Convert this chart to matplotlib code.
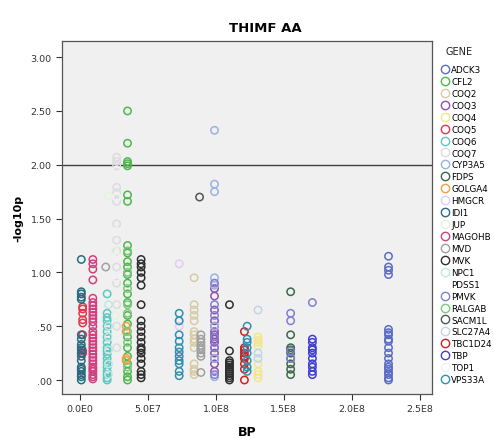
import matplotlib
matplotlib.use("Agg")
import matplotlib.pyplot as plt
from matplotlib.lines import Line2D

genes = ["ADCK3", "CFL2", "COQ2", "COQ3", "COQ4", "COQ5", "COQ6", "COQ7", "CYP3A5",
         "FDPS", "GOLGA4", "HMGCR", "IDI1", "JUP", "MAGOHB", "MVD", "MVK", "NPC1",
         "PDSS1", "PMVK", "RALGAB", "SACM1L", "SLC27A4", "TBC1D24", "TBP", "TOP1", "VPS33A"]
colors = ["#5a6cc4", "#4cb84c", "#d6cca4", "#9050b0", "#f3e68c", "#e0384a", "#5cc8c0",
          "#dcdcdc", "#9ab2e2", "#3a6a4a", "#f0a040", "#e2cdf2", "#2a6a80", "#e4f4dc",
          "#d04080", "#a0a0a0", "#2e2e2e", "#c0e8e0", "#ffffff", "#8080d0", "#7cc87c",
          "#555555", "#c0d6e6", "#d02020", "#4040d0", "#f2f2f2", "#3090b0"]

# (BP position, -log10p values) per gene
ADCK3_bp = [2.27e8] * 19
ADCK3_p = [1.15, 1.05, 1.02, 0.98, 0.47, 0.44, 0.42, 0.38, 0.36, 0.30, 0.25, 0.20, 0.15, 0.12, 0.10, 0.07, 0.05, 0.02, 0.00]
CFL2_bp = [3.5e7] * 24
CFL2_p = [2.50, 2.20, 2.03, 2.01, 1.99, 1.72, 1.66, 1.25, 1.18, 1.10, 1.05, 0.98, 0.90, 0.80, 0.72,
          0.60, 0.52, 0.40, 0.30, 0.22, 0.15, 0.08, 0.03, 0.00]
COQ2_bp = [8.4e7] * 14
COQ2_p = [0.95, 0.70, 0.65, 0.60, 0.55, 0.45, 0.42, 0.38, 0.35, 0.30, 0.15, 0.10, 0.08, 0.05]
COQ3_bp = [9.9e7] * 14
COQ3_p = [0.85, 0.78, 0.65, 0.55, 0.50, 0.45, 0.42, 0.38, 0.35, 0.30, 0.25, 0.20, 0.15, 0.08]
COQ4_bp = [1.31e8] * 8
COQ4_p = [0.40, 0.37, 0.35, 0.32, 0.15, 0.08, 0.05, 0.02]
COQ5_bp = [0.2e7] * 8
COQ5_p = [0.68, 0.66, 0.62, 0.56, 0.53, 0.42, 0.27, 0.25]
COQ6_bp = [2.0e7] * 18
COQ6_p = [0.80, 0.62, 0.58, 0.55, 0.50, 0.45, 0.40, 0.35, 0.30, 0.27, 0.24, 0.20, 0.16, 0.12, 0.08, 0.05, 0.02, 0.00]
COQ7_bp = [2.7e7] * 14
COQ7_p = [2.07, 2.03, 1.99, 1.79, 1.74, 1.66, 1.45, 1.30, 1.20, 1.05, 0.90, 0.70, 0.50, 0.30]
CYP3A5_bp = [9.9e7] * 8
CYP3A5_p = [2.32, 1.82, 1.75, 0.95, 0.88, 0.50, 0.20, 0.03]
FDPS_bp = [1.55e8] * 9
FDPS_p = [0.82, 0.42, 0.30, 0.28, 0.25, 0.20, 0.15, 0.10, 0.05]
GOLGA4_bp = [3.4e7] * 4
GOLGA4_p = [0.50, 0.45, 0.20, 0.18]
HMGCR_bp = [7.3e7] * 3
HMGCR_p = [1.08, 0.55, 0.50]
IDI1_bp = [0.1e7] * 19
IDI1_p = [1.12, 0.82, 0.80, 0.77, 0.75, 0.42, 0.38, 0.33, 0.30, 0.28, 0.25, 0.22, 0.18, 0.12, 0.10, 0.08, 0.05, 0.03, 0.00]
JUP_bp = [2.1e7, 2.6e7, 2.6e7]
JUP_p = [1.71, 1.20, 0.60]
MAGOHB_bp = [0.95e7] * 30
MAGOHB_p = [1.12, 1.08, 1.03, 0.93, 0.76, 0.72, 0.69, 0.66, 0.63, 0.60, 0.57, 0.54, 0.50, 0.45, 0.42,
            0.39, 0.36, 0.33, 0.30, 0.27, 0.24, 0.21, 0.18, 0.15, 0.12, 0.10, 0.08, 0.05, 0.03, 0.01]
MVD_bp = [8.9e7] * 9 + [1.9e7]
MVD_p = [0.42, 0.38, 0.35, 0.32, 0.30, 0.28, 0.25, 0.22, 0.07, 1.05]
MVK_bp = [4.5e7] * 20 + [1.1e8] * 12
MVK_p = [1.12, 1.08, 1.05, 1.00, 0.95, 0.88, 0.70, 0.55, 0.50, 0.45, 0.40, 0.35, 0.30, 0.28, 0.25,
         0.20, 0.15, 0.08, 0.05, 0.02,
         0.70, 0.27, 0.18, 0.16, 0.14, 0.12, 0.10, 0.08, 0.06, 0.04, 0.02, 0.00]
NPC1_bp = [2.1e7] * 6
NPC1_p = [0.70, 0.50, 0.40, 0.28, 0.15, 0.05]
PDSS1_bp = []
PDSS1_p = []
PMVK_bp = [9.9e7] * 6 + [1.55e8] * 4 + [1.71e8]
PMVK_p = [0.90, 0.70, 0.60, 0.40, 0.30, 0.05, 0.62, 0.55, 0.27, 0.20, 0.72]
RALGAB_bp = [3.5e7] * 8
RALGAB_p = [1.20, 1.00, 0.85, 0.70, 0.62, 0.45, 0.35, 0.12]
SACM1L_bp = [8.8e7]
SACM1L_p = [1.70]
SLC27A4_bp = [1.31e8] * 3
SLC27A4_p = [0.65, 0.25, 0.20]
TBC1D24_bp = [1.21e8] * 9
TBC1D24_p = [0.45, 0.30, 0.28, 0.25, 0.22, 0.20, 0.15, 0.10, 0.00]
TBP_bp = [1.71e8] * 10
TBP_p = [0.38, 0.35, 0.30, 0.28, 0.25, 0.20, 0.15, 0.12, 0.08, 0.05]
TOP1_bp = [2.7e7] * 10
TOP1_p = [1.95, 1.70, 1.55, 1.38, 1.15, 0.95, 0.80, 0.40, 0.20, 0.02]
VPS33A_bp = [7.3e7] * 11 + [1.23e8] * 8
VPS33A_p = [0.62, 0.55, 0.42, 0.36, 0.30, 0.26, 0.22, 0.18, 0.15, 0.08, 0.04,
            0.50, 0.38, 0.35, 0.30, 0.25, 0.18, 0.12, 0.08]

data = {g: (globals()[g + "_bp"], globals()[g + "_p"]) for g in genes}

y_ticks = [0.0, 0.5, 1.0, 1.5, 2.0, 2.5, 3.0]
y_labels = [".00", ".50", "1.00", "1.50", "2.00", "2.50", "3.00"]
x_ticks = [0, 5e7, 1e8, 1.5e8, 2e8, 2.5e8]
x_labels = ["0.0E0", "5.0E7", "1.0E8", "1.5E8", "2.0E8", "2.5E8"]
ref_line = 2.0

fig = plt.figure(figsize=(4.94, 4.39), dpi=100)
ax = fig.add_axes([62/494, 1 - 395/439, 370/494, 353/439])
ax.set_facecolor("#f0f0f0")

handles = []
for g, c in zip(genes, colors):
    bp, p = data[g]
    ax.scatter(bp, p, s=28, facecolors="none", edgecolors=c, linewidths=1.1, zorder=3)
    handles.append(Line2D([], [], marker="o", linestyle="none", markersize=6,
                          markerfacecolor="none", markeredgecolor=c, markeredgewidth=1.0, label=g))

ax.axhline(ref_line, color="#404040", linewidth=1.0, zorder=2)
ax.set_xlim(-1.32e7, 2.59e8)
ax.set_ylim(-0.13, 3.15)
ax.set_yticks(y_ticks)
ax.set_yticklabels(y_labels, fontsize=6.8, color="#333333")
ax.set_xticks(x_ticks)
ax.set_xticklabels(x_labels, fontsize=6.8, color="#333333")
ax.tick_params(length=4, width=0.8, colors="#333333", labelcolor="#333333")
for s in ax.spines.values():
    s.set_color("#555555")
    s.set_linewidth(0.9)
ax.set_xlabel("BP", fontsize=9, fontweight="bold", labelpad=8)
ax.set_ylabel("-log10p", fontsize=8, fontweight="bold", labelpad=5)
fig.text(265/494, 1 - 28/439, "THIMF AA", fontsize=9.5, fontweight="bold", ha="center", va="center")

fig.text(459/494, 1 - 52/439, "GENE", fontsize=7, ha="center", va="center", color="#222222")
leg = fig.legend(handles=handles, loc="upper left", bbox_to_anchor=(440/494, 1 - 66/439),
                 frameon=False, fontsize=6.3,
                 handletextpad=0.1, labelspacing=0.335, handlelength=1.2, borderpad=0.0,
                 borderaxespad=0)

fig.savefig("out.png", dpi=100)
